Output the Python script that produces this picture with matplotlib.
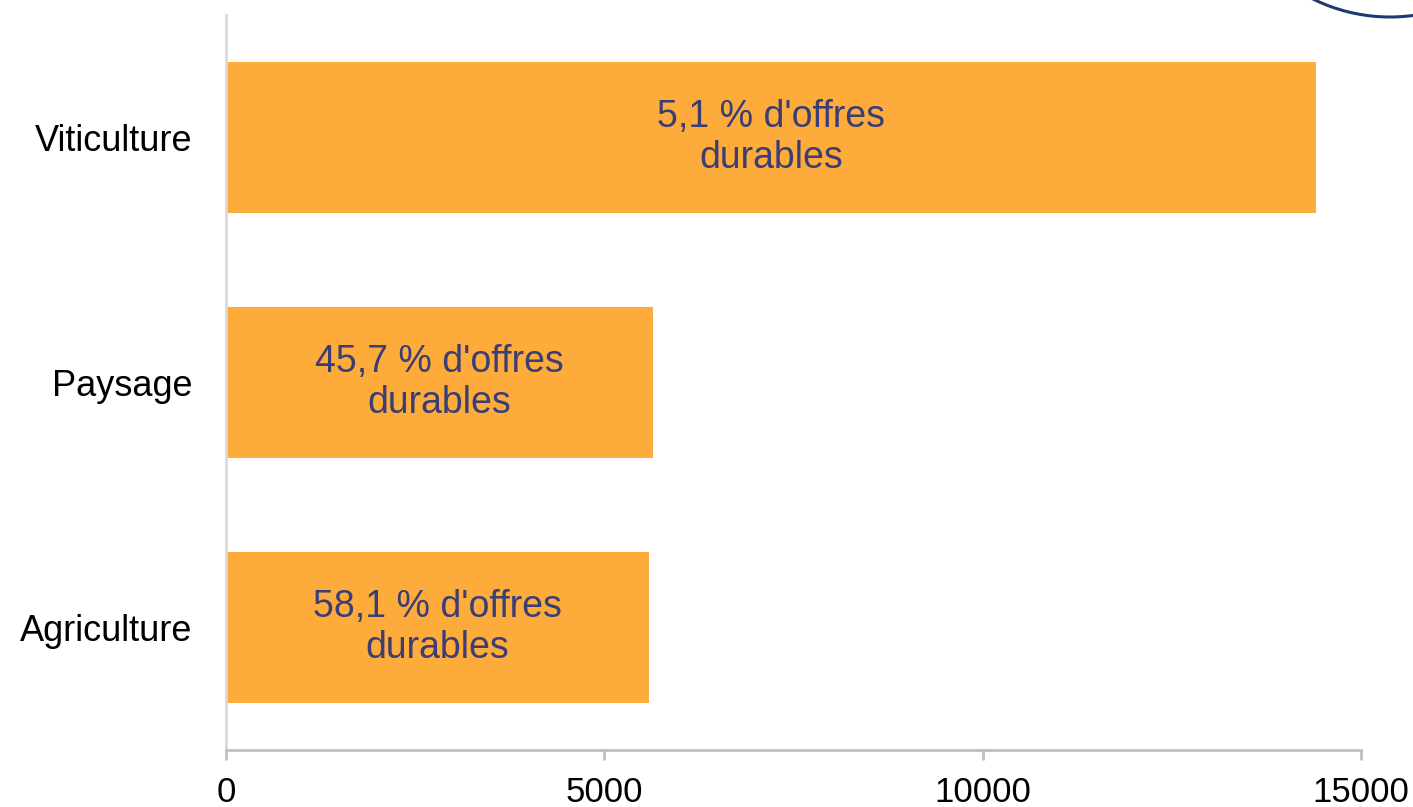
import matplotlib.pyplot as plt
from matplotlib.patches import Circle

categories = ['Agriculture', 'Paysage', 'Viticulture']
offres = [5590, 5640, 14400]
labels = ["58,1 % d'offres\ndurables", "45,7 % d'offres\ndurables", "5,1 % d'offres\ndurables"]
xticks = [0, 5000, 10000, 15000]

plt.rcParams['font.family'] = ['Liberation Sans', 'DejaVu Sans']

fig = plt.figure(figsize=(14.13, 8.07), dpi=100)
ax = fig.add_axes([226 / 1413, 57 / 807, 1135 / 1413, 735 / 807])

pos = range(len(categories))
bars = ax.barh(pos, offres, height=0.62, color='#FDAC3B')
for b, txt in zip(bars, labels):
    ax.text(b.get_width() / 2, b.get_y() + b.get_height() / 2, txt,
            ha='center', va='center', fontsize=27, color='#3B3D75',
            linespacing=1.17)

ax.set_xlim(0, 15000)
ax.set_ylim(-0.5, 2.5)
ax.set_xticks(xticks)
ax.set_xticklabels([str(t) for t in xticks])
ax.set_yticks(list(pos))
ax.set_yticklabels(categories)
ax.tick_params(axis='x', length=7, width=2, color='#BFBFBF', labelsize=25, pad=12)
ax.tick_params(axis='y', length=0, labelsize=26, pad=24)

for s in ['top', 'right']:
    ax.spines[s].set_visible(False)
ax.spines['bottom'].set_color('#BFBFBF')
ax.spines['bottom'].set_linewidth(2)
ax.spines['left'].set_color('#D9D9D9')
ax.spines['left'].set_linewidth(2)

# decorative arc in the top-right corner
deco = fig.add_axes([0, 0, 1, 1], zorder=5)
deco.set_xlim(0, 1413)
deco.set_ylim(807, 0)
deco.axis('off')
deco.patch.set_alpha(0)
deco.add_patch(Circle((1390, -157), 174, fill=False, edgecolor='#1F3A6E', linewidth=2.2))

fig.savefig('out.png', dpi=100)
